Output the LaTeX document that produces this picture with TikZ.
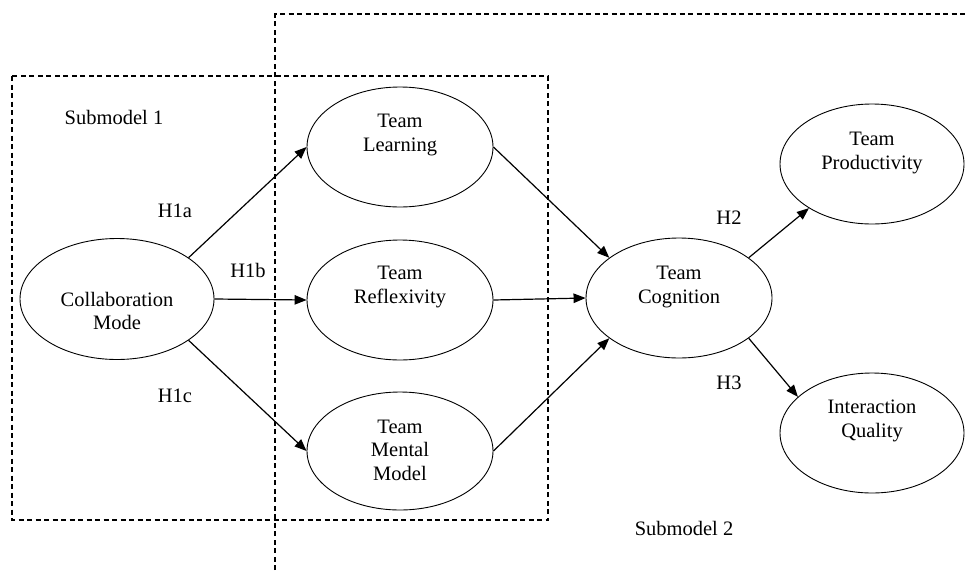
\documentclass[tikz,border=0pt]{standalone}
\usepackage{fontspec}
\setmainfont{Liberation Serif}
\usetikzlibrary{arrows.meta,shapes.geometric}
\begin{document}
\begin{tikzpicture}[x=1pt,y=-1pt,
  ell/.style={draw,ellipse,line width=0.9pt,minimum width=186pt,minimum height=120pt,inner sep=0pt},
  lbl/.style={align=center,font=\fontsize{20.5}{23.5}\selectfont,inner sep=0pt},
  arr/.style={line width=1.2pt,-{Triangle[length=12pt,width=9.5pt]}},
  box/.style={dashed,line width=1.2pt,dash pattern=on 5pt off 3.5pt}]
\useasboundingbox (0,0) rectangle (965,570);
% dashed submodel boxes
\draw[box] (12,76) rectangle (548,520);
\draw[box] (275,570) -- (275,14) -- (965,14);
% ellipses
\node[ell,minimum width=194pt,minimum height=121pt] (cm) at (117,299) {};
\node[ell] (tl) at (400,147) {};
\node[ell] (tr) at (400,300) {};
\node[ell,minimum height=118pt] (tmm) at (400,451) {};
\node[ell] (tc) at (679,298) {};
\node[ell,minimum width=184pt] (tp) at (872,164) {};
\node[ell,minimum width=184pt] (iq) at (872,433) {};
% texts in ellipses
\node[lbl] (cmt) at (117,311) {Collaboration\\Mode};
\node[lbl] (tlt) at (400,135) {Team\\Learning};
\node[lbl] (trt) at (400,287) {Team\\Reflexivity};
\node[lbl] (tmmt) at (400,450) {Team\\Mental\\Model};
\node[lbl] (tct) at (679,287) {Team\\Cognition};
\node[lbl] (tpt) at (872,153) {Team\\Productivity};
\node[lbl] (iqt) at (872,421) {Interaction\\Quality};
% free labels
\node[lbl] (s1) at (114,117) {Submodel 1};
\node[lbl] (s2) at (684,528) {Submodel 2};
\node[lbl] (h1a) at (175,211) {H1a};
\node[lbl] (h1b) at (248,270) {H1b};
\node[lbl] (h1c) at (175,396) {H1c};
\node[lbl] (h2) at (729,218) {H2};
\node[lbl] (h3) at (729,383) {H3};
% connectors
\draw[arr] (cm.30) -- (tl.west);
\draw[arr] (cm.east) -- (tr.west);
\draw[arr] (cm.-30) -- (tmm.west);
\draw[arr] (tl.east) -- (tc.150);
\draw[arr] (tr.east) -- (tc.west);
\draw[arr] (tmm.east) -- (tc.210);
\draw[arr] (tc.30) -- (tp.215);
\draw[arr] (tc.-30) -- (iq.154);
\end{tikzpicture}
\end{document}
